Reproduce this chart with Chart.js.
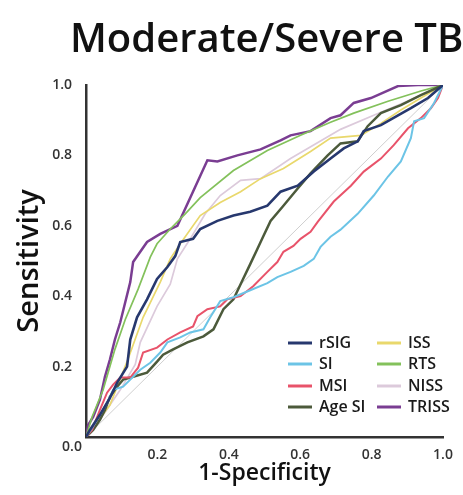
<!DOCTYPE html>
<html lang="en">
<head>
    <meta charset="UTF-8">
    <title>Moderate/Severe TBI ROC</title>
    <style>
        body {
            margin: 0;
            padding: 0;
            background: #fff;
            overflow: hidden;
        }
        .chart-box {
            position: relative;
            width: 463px;
            height: 495px;
        }
    </style>
</head>
<body>
    <div class="chart-box">
        <canvas id="rocChart"></canvas>
    </div>

    <script src="https://cdn.jsdelivr.net/npm/chart.js"></script>
    <script>
        // ROC points [1-specificity, sensitivity]
        const rsigPts = [[0,0],[0.011,0.02],[0.039,0.063],[0.067,0.111],[0.087,0.154],[0.115,0.2],[0.124,0.277],[0.143,0.34],[0.171,0.391],[0.199,0.449],[0.228,0.483],[0.25,0.514],[0.264,0.554],[0.3,0.563],[0.32,0.591],[0.368,0.614],[0.413,0.629],[0.46,0.64],[0.508,0.657],[0.545,0.697],[0.593,0.714],[0.638,0.754],[0.685,0.791],[0.722,0.82],[0.761,0.84],[0.778,0.869],[0.826,0.886],[0.874,0.914],[0.91,0.934],[0.958,0.963],[1,1]];
        const siPts = [[0,0],[0.017,0.026],[0.031,0.049],[0.059,0.097],[0.076,0.134],[0.104,0.143],[0.124,0.163],[0.152,0.191],[0.18,0.211],[0.208,0.24],[0.228,0.269],[0.264,0.283],[0.292,0.297],[0.329,0.306],[0.348,0.34],[0.376,0.386],[0.413,0.397],[0.46,0.417],[0.508,0.437],[0.536,0.454],[0.573,0.469],[0.61,0.486],[0.638,0.506],[0.657,0.54],[0.685,0.569],[0.713,0.589],[0.761,0.634],[0.806,0.686],[0.846,0.74],[0.882,0.783],[0.91,0.849],[0.919,0.897],[0.947,0.906],[0.975,0.949],[1,1]];
        const msiPts = [[0,0],[0.017,0.02],[0.039,0.077],[0.059,0.126],[0.076,0.149],[0.096,0.169],[0.124,0.169],[0.146,0.197],[0.16,0.24],[0.199,0.254],[0.228,0.277],[0.264,0.297],[0.3,0.314],[0.312,0.343],[0.34,0.363],[0.376,0.371],[0.396,0.391],[0.433,0.4],[0.469,0.429],[0.508,0.469],[0.536,0.497],[0.553,0.526],[0.581,0.543],[0.601,0.563],[0.629,0.583],[0.649,0.611],[0.694,0.669],[0.742,0.714],[0.778,0.754],[0.826,0.791],[0.862,0.829],[0.902,0.877],[0.938,0.906],[0.966,0.934],[0.986,0.963],[1,1]];
        const ageSiPts = [[0,0],[0.02,0.02],[0.039,0.049],[0.053,0.077],[0.067,0.114],[0.087,0.143],[0.104,0.163],[0.132,0.171],[0.171,0.183],[0.199,0.214],[0.216,0.234],[0.244,0.249],[0.284,0.269],[0.329,0.286],[0.357,0.306],[0.385,0.363],[0.413,0.391],[0.44,0.449],[0.46,0.491],[0.48,0.534],[0.497,0.571],[0.517,0.614],[0.553,0.657],[0.593,0.706],[0.629,0.749],[0.677,0.8],[0.713,0.834],[0.761,0.84],[0.789,0.883],[0.826,0.92],[0.882,0.943],[0.938,0.971],[1,1]];
        const issPts = [[0,0],[0.025,0.034],[0.067,0.091],[0.115,0.214],[0.16,0.34],[0.208,0.44],[0.236,0.506],[0.264,0.549],[0.32,0.629],[0.376,0.666],[0.433,0.697],[0.489,0.734],[0.553,0.763],[0.629,0.811],[0.685,0.849],[0.77,0.857],[0.826,0.891],[0.882,0.929],[0.938,0.963],[1,1]];
        const rtsPts = [[0,0],[0.017,0.057],[0.048,0.134],[0.081,0.249],[0.11,0.334],[0.146,0.42],[0.18,0.511],[0.199,0.549],[0.236,0.591],[0.278,0.634],[0.32,0.68],[0.413,0.757],[0.508,0.814],[0.601,0.857],[0.685,0.894],[0.75,0.92],[0.846,0.954],[0.938,0.983],[1,1]];
        const nissPts = [[0,0],[0.039,0.049],[0.096,0.134],[0.138,0.206],[0.152,0.269],[0.199,0.371],[0.236,0.434],[0.256,0.506],[0.292,0.563],[0.334,0.634],[0.376,0.686],[0.433,0.729],[0.489,0.734],[0.573,0.791],[0.713,0.874],[0.806,0.914],[0.9,0.954],[1,1]];
        const trissPts = [[0,0],[0.006,0.034],[0.02,0.057],[0.039,0.106],[0.053,0.171],[0.067,0.22],[0.081,0.277],[0.096,0.326],[0.124,0.44],[0.132,0.497],[0.171,0.554],[0.208,0.577],[0.256,0.6],[0.34,0.786],[0.368,0.783],[0.424,0.8],[0.489,0.817],[0.545,0.843],[0.573,0.857],[0.629,0.869],[0.685,0.906],[0.713,0.914],[0.75,0.949],[0.798,0.963],[0.874,0.997],[0.93,1],[1,1]];
        const refPts = [[0,0],[1,1]];

        const seriesNames = ["rSIG", "SI", "MSI", "Age SI", "ISS", "RTS", "NISS", "TRISS"];
        const seriesColors = ["#27386e", "#6cc4e6", "#e8536a", "#4c5a3b", "#e9d86c", "#83c15b", "#dccadb", "#7a3d92"];
        const seriesWidths = [2.6, 2, 2, 2.5, 1.7, 1.7, 1.7, 2.5];
        const seriesPts = [rsigPts, siPts, msiPts, ageSiPts, issPts, rtsPts, nissPts, trissPts];
        const tickValues = [0, 0.2, 0.4, 0.6, 0.8, 1.0];

        const toXY = (pts) => pts.map((p) => ({ x: p[0], y: p[1] }));

        const datasets = seriesNames.map((name, i) => ({
            label: name,
            data: toXY(seriesPts[i]),
            borderColor: seriesColors[i],
            backgroundColor: seriesColors[i],
            borderWidth: seriesWidths[i],
            pointRadius: 0,
            tension: 0,
            fill: false
        }));
        datasets.push({
            label: "reference",
            data: toXY(refPts),
            borderColor: "#cfcfcf",
            borderWidth: 1,
            pointRadius: 0,
            fill: false
        });

        const FONT = "'Open Sans', 'DejaVu Sans', sans-serif";

        // title, the lone "0.0" origin label and the two-column legend
        const extras = {
            id: "extras",
            afterDraw(chart) {
                const ctx = chart.ctx;
                ctx.save();
                ctx.fillStyle = "#111";
                ctx.font = "600 40px " + FONT;
                ctx.textBaseline = "alphabetic";
                ctx.textAlign = "left";
                ctx.fillText("Moderate/Severe TBI", 70, 52);

                ctx.fillStyle = "#333";
                ctx.font = "600 14px " + FONT;
                ctx.textAlign = "center";
                ctx.textBaseline = "middle";
                ctx.fillText("0.0", 72, 447);

                const cols = [288, 377];
                const rows = [343, 364, 386, 407];
                ctx.font = "600 16px " + FONT;
                ctx.textAlign = "left";
                seriesNames.forEach((name, i) => {
                    const x = cols[Math.floor(i / 4)];
                    const y = rows[i % 4];
                    ctx.strokeStyle = seriesColors[i];
                    ctx.lineWidth = 3;
                    ctx.beginPath();
                    ctx.moveTo(x, y);
                    ctx.lineTo(x + 24, y);
                    ctx.stroke();
                    ctx.fillStyle = "#1a1a1a";
                    ctx.fillText(name, x + 31, y);
                });
                ctx.restore();
            }
        };

        const ctx = document.getElementById("rocChart").getContext("2d");
        new Chart(ctx, {
            type: "line",
            data: { datasets: datasets },
            plugins: [extras],
            options: {
                responsive: true,
                maintainAspectRatio: false,
                animation: false,
                layout: { padding: { top: 85, right: 20, left: 0, bottom: 0 } },
                plugins: {
                    legend: { display: false },
                    tooltip: { enabled: false }
                },
                scales: {
                    x: {
                        type: "linear",
                        min: 0,
                        max: 1,
                        afterBuildTicks: (s) => { s.ticks = tickValues.map((v) => ({ value: v })); },
                        afterFit: (s) => { s.height = 58; },
                        grid: { display: false },
                        border: { color: "#333", width: 2.5 },
                        ticks: {
                            padding: 2,
                            color: "#333",
                            font: { family: FONT, size: 14, weight: "600" },
                            callback: (v) => (v === 0 ? "" : v.toFixed(1))
                        },
                        title: {
                            display: true,
                            text: "1-Specificity",
                            color: "#111",
                            font: { family: FONT, size: 23, weight: "600" },
                            padding: { top: 0, bottom: 8 }
                        }
                    },
                    y: {
                        type: "linear",
                        min: 0,
                        max: 1,
                        afterBuildTicks: (s) => { s.ticks = tickValues.map((v) => ({ value: v })); },
                        afterFit: (s) => { s.width = 86; },
                        grid: { display: false },
                        border: { color: "#333", width: 2.5 },
                        ticks: {
                            padding: 6,
                            color: "#333",
                            font: { family: FONT, size: 14, weight: "600" },
                            callback: (v) => (v === 0 ? "" : v.toFixed(1))
                        },
                        title: {
                            display: true,
                            text: "Sensitivity",
                            color: "#111",
                            font: { family: FONT, size: 29, weight: "600" },
                            padding: { top: 12, bottom: 0 }
                        }
                    }
                }
            }
        });
    </script>
</body>
</html>
